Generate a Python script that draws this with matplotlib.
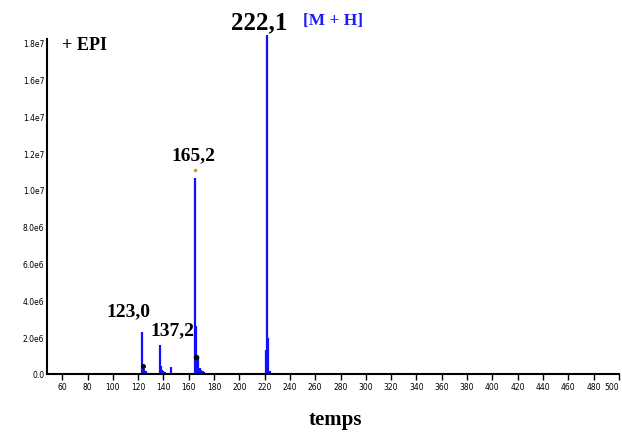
import matplotlib
matplotlib.use("Agg")
import matplotlib.pyplot as plt

# m/z values and intensities
mz = [123, 124, 125, 126, 137, 138, 139, 140, 141, 146,
      165, 166, 167, 168, 169, 170, 171, 172, 221, 222, 223, 224]
intensity = [2.27e6, 0.55e6, 0.25e6, 0.15e6, 1.58e6, 0.45e6, 0.2e6, 0.15e6, 0.12e6, 0.4e6,
             1.065e7, 2.6e6, 0.9e6, 0.35e6, 0.3e6, 0.2e6, 0.15e6, 0.1e6, 1.3e6, 1.84e7, 1.96e6, 0.15e6]

x_ticks = list(range(60, 501, 20))
y_ticks = [0, 2e6, 4e6, 6e6, 8e6, 1.0e7, 1.2e7, 1.4e7, 1.6e7, 1.8e7]
y_tick_labels = ["0.0", "2.0e6", "4.0e6", "6.0e6", "8.0e6", "1.0e7", "1.2e7", "1.4e7", "1.6e7", "1.8e7"]

serif = ["Liberation Serif", "DejaVu Serif"]

fig = plt.figure(figsize=(6.22, 4.39), dpi=100)
ax = fig.add_axes([0.0756, 0.1458, 0.9194, 0.7632])

ax.vlines(mz, 0, intensity, colors="#1010ff", linewidth=1.6, clip_on=False)

ax.set_xlim(48, 500)
ax.set_ylim(0, 1.82e7)
ax.set_xticks(x_ticks)
ax.set_xticklabels([str(t) for t in x_ticks], fontsize=5.5)
ax.get_xticklabels()[-1].set_horizontalalignment("right")
ax.set_yticks(y_ticks)
ax.set_yticklabels(y_tick_labels, fontsize=5.5)
ax.tick_params(axis="x", direction="out", length=4, width=1, pad=2)
ax.tick_params(axis="y", length=0, pad=2)
for s in ["top", "right"]:
    ax.spines[s].set_visible(False)
for s in ["left", "bottom"]:
    ax.spines[s].set_linewidth(1.5)

# markers
ax.plot([123.5], [0.45e6], marker="o", color="black", markersize=2.5)
ax.plot([165.8], [0.9e6], marker="o", color="black", markersize=3)
ax.plot([164.6], [1.11e7], marker="o", color="#c8a000", markersize=1.5)

# peak labels
ax.text(112, 3.0e6, "123,0", fontsize=14, fontweight="bold", family=serif, ha="center", va="bottom")
ax.text(147.5, 1.95e6, "137,2", fontsize=14, fontweight="bold", family=serif, ha="center", va="bottom")
ax.text(164, 1.145e7, "165,2", fontsize=14, fontweight="bold", family=serif, ha="center", va="bottom")
ax.text(216, 1.848e7, "222,1", fontsize=18, fontweight="bold", family=serif, ha="center", va="bottom", clip_on=False)
ax.text(250, 1.88e7, "[M + H]", fontsize=12.5, fontweight="bold", family=serif, color="#1a1aff", ha="left", va="bottom", clip_on=False)
ax.text(59.5, 1.746e7, "+ EPI", fontsize=13, fontweight="bold", family=serif, ha="left", va="bottom")

ax.set_xlabel("temps", fontsize=15, fontweight="bold", family=serif, labelpad=17)
ax.xaxis.set_label_coords(0.505, -0.104)

fig.savefig("out.png", dpi=100)
